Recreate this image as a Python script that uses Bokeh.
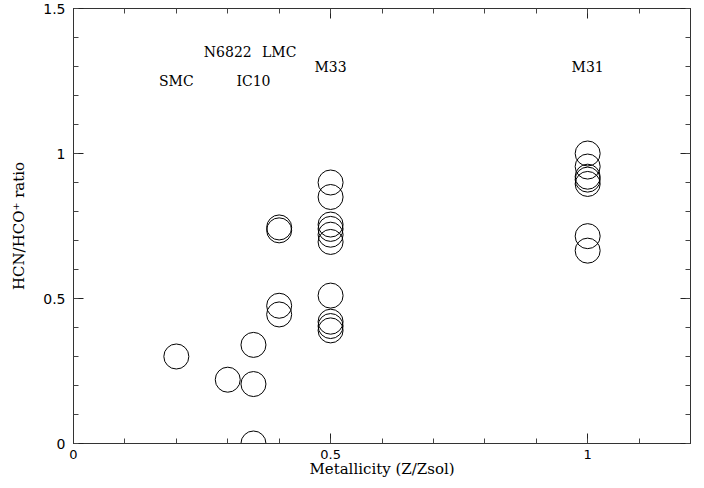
from bokeh.plotting import figure
from bokeh.models import ColumnDataSource, LinearAxis, FixedTicker, Range1d
from bokeh.core.properties import value
from bokeh.embed import file_html
from bokeh.resources import INLINE

# Data
metallicity = [0.2,
               0.3,
               0.35, 0.35, 0.35,
               0.4, 0.4, 0.4, 0.4,
               0.5, 0.5, 0.5, 0.5, 0.5, 0.5, 0.5, 0.5, 0.5, 0.5,
               1.0, 1.0, 1.0, 1.0, 1.0, 1.0, 1.0]
ratio = [0.30,
         0.22,
         0.34, 0.205, 0.0,
         0.745, 0.735, 0.475, 0.445,
         0.90, 0.85, 0.755, 0.74, 0.72, 0.695, 0.51, 0.42, 0.405, 0.39,
         1.0, 0.955, 0.92, 0.91, 0.895, 0.715, 0.665]

galaxies = ["SMC", "N6822", "IC10", "LMC", "M33", "M31"]
label_x = [0.2, 0.3, 0.35, 0.4, 0.5, 1.0]
label_y = [1.25, 1.35, 1.25, 1.35, 1.30, 1.30]

x_ticks = [0, 0.5, 1]
y_ticks = [0, 0.5, 1, 1.5]
minor = [i / 10 for i in range(0, 16)]

SERIF = "DejaVu Serif"
SANS = "DejaVu Sans"

p = figure(width=696, height=480, output_backend="svg", toolbar_location=None,
           x_range=Range1d(0, 1.2), y_range=Range1d(0, 1.5),
           min_border_left=73, min_border_right=6, min_border_top=8, min_border_bottom=36,
           x_axis_location=None, y_axis_location=None)
p.grid.visible = False
p.outline_line_color = "black"
p.background_fill_color = "white"
p.border_fill_color = "white"

def style_axis(ax, ticks, labels=True):
    ax.ticker = FixedTicker(ticks=ticks, minor_ticks=minor)
    ax.major_tick_in = 10
    ax.major_tick_out = 0
    ax.minor_tick_in = 5
    ax.minor_tick_out = 0
    ax.axis_line_color = "#333333"
    ax.major_tick_line_color = "#222222"
    ax.minor_tick_line_color = "#444444"
    ax.major_label_text_font = SANS
    ax.major_label_text_font_size = "14px"
    ax.major_label_text_color = "black"
    ax.axis_label_text_font = SERIF
    ax.axis_label_text_font_size = "15px"
    ax.axis_label_text_font_style = "normal"
    ax.axis_label_text_color = "black"
    if not labels:
        ax.major_label_text_font_size = "0px"
        ax.major_label_text_alpha = 0

xb = LinearAxis(axis_label="Metallicity (Z/Zsol)")
style_axis(xb, x_ticks)
xb.major_label_text_font_size = "13px"
xb.major_label_overrides = {0: "0", 0.5: "0.5", 1: "1"}
xb.major_label_standoff = 6
xb.axis_label_standoff = -2
p.add_layout(xb, "below")

yl = LinearAxis(axis_label="HCN/HCO\u207a ratio")
style_axis(yl, y_ticks)
yl.major_label_overrides = {0: "0", 0.5: "0.5", 1: "1", 1.5: "1.5"}
yl.major_label_standoff = 8
yl.axis_label_standoff = 12
p.add_layout(yl, "left")

xt = LinearAxis()
style_axis(xt, x_ticks, labels=False)
xt.major_label_overrides = {0: "", 0.5: "", 1: ""}
p.add_layout(xt, "above")

yr = LinearAxis()
style_axis(yr, y_ticks, labels=False)
yr.major_label_overrides = {0: "", 0.5: "", 1: "", 1.5: ""}
p.add_layout(yr, "right")

src = ColumnDataSource(dict(x=metallicity, y=ratio))
p.scatter("x", "y", source=src, marker="circle", size=25,
          fill_color=None, line_color="black", line_width=1)

lsrc = ColumnDataSource(dict(x=label_x, y=label_y, t=galaxies))
p.text("x", "y", text="t", source=lsrc, text_align="center", text_baseline="middle",
       text_font=value(SERIF), text_font_size="14px", text_color="black")

open("out.html", "w").write(file_html(p, INLINE))
